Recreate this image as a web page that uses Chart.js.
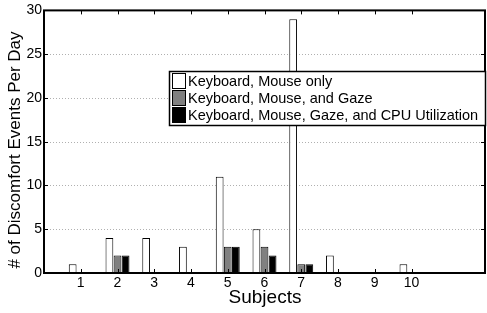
<!DOCTYPE html>
<html>
<head>
<meta charset="utf-8">
<script src="https://cdn.jsdelivr.net/npm/chart.js@4"></script>
<style>
  body { margin: 0; background: #fff; }
  canvas { display: block; }
</style>
</head>
<body>
<canvas id="chart" width="487" height="313"></canvas>
<script>
    // Values
    const subjects = ['', '1', '2', '3', '4', '5', '6', '7', '8', '9', '10', '', ''];
    const kbMouse = [null, 1, 4, 4, 3, 11, 5, 29, 2, 0, 1, null, null];
    const kbMouseGaze = [null, 0, 2, 0, 0, 3, 3, 1, 0, 0, 0, null, null];
    const kbMouseGazeCpu = [null, 0, 2, 0, 0, 3, 2, 1, 0, 0, 0, null, null];
    const yTicks = [0, 5, 10, 15, 20, 25, 30];
    const xTitle = 'Subjects';
    const yTitle = '# of Discomfort Events Per Day';

    const FONT = '"Liberation Sans", Arial, sans-serif';

    // dotted grid behind the bars
    const gridPlugin = {
      id: 'dottedGrid',
      beforeDatasetsDraw(chart) {
        const ctx = chart.ctx;
        const area = chart.chartArea;
        const y = chart.scales.y;
        ctx.save();
        ctx.strokeStyle = '#b0b0b0';
        ctx.lineWidth = 1;
        ctx.setLineDash([1, 2]);
        ctx.beginPath();
        yTicks.forEach(v => {
          if (v === 0 || v === 30) return;
          const py = Math.round(y.getPixelForValue(v)) + 0.5;
          ctx.moveTo(area.left, py);
          ctx.lineTo(area.right, py);
        });
        ctx.stroke();
        ctx.restore();
      }
    };

    // frame, inward ticks, titles and legend box, drawn on top of the bars
    const framePlugin = {
      id: 'frame',
      afterDraw(chart) {
        const ctx = chart.ctx;
        const area = chart.chartArea;
        const x = chart.scales.x, y = chart.scales.y;
        ctx.save();
        ctx.strokeStyle = '#000';
        ctx.lineWidth = 1;
        // tick marks
        ctx.beginPath();
        yTicks.forEach(v => {
          const py = Math.round(y.getPixelForValue(v)) + 0.5;
          ctx.moveTo(area.left, py); ctx.lineTo(area.left + 4, py);
          ctx.moveTo(area.right, py); ctx.lineTo(area.right - 4, py);
        });
        subjects.forEach((s, i) => {
          if (!s) return;
          const px = Math.round(x.getPixelForValue(i)) + 0.5;
          ctx.moveTo(px, area.bottom); ctx.lineTo(px, area.bottom - 4);
          ctx.moveTo(px, area.top); ctx.lineTo(px, area.top + 4);
        });
        ctx.stroke();
        // box
        ctx.lineWidth = 2;
        ctx.strokeRect(area.left, area.top, area.right - area.left, area.bottom - area.top);

        // axis titles
        ctx.fillStyle = '#000';
        ctx.textAlign = 'center';
        ctx.textBaseline = 'middle';
        ctx.font = '19px ' + FONT;
        ctx.fillText(xTitle, 265, 298);
        ctx.save();
        ctx.translate(15, 150);
        ctx.rotate(-Math.PI / 2);
        ctx.font = '17px ' + FONT;
        ctx.fillText(yTitle, 0, 0);
        ctx.restore();

        // legend
        const lx = 169, ly = 71, lw = 316, lh = 54;
        ctx.fillStyle = '#fff';
        ctx.fillRect(lx, ly, lw, lh);
        ctx.lineWidth = 1.5;
        ctx.strokeRect(lx + 0.5, ly + 0.5, lw, lh);
        ctx.font = '14.5px ' + FONT;
        ctx.textAlign = 'left';
        ctx.textBaseline = 'middle';
        chart.data.datasets.forEach((ds, i) => {
          const ry = ly + 2 + i * 17;
          ctx.fillStyle = ds.backgroundColor;
          ctx.fillRect(lx + 3, ry, 14, 16);
          ctx.lineWidth = 1;
          ctx.strokeStyle = '#000';
          ctx.strokeRect(lx + 3.5, ry + 0.5, 13, 15);
          ctx.fillStyle = '#000';
          ctx.fillText(ds.label, lx + 19, ry + 9);
        });
        ctx.restore();
      }
    };

    const ctx = document.getElementById('chart').getContext('2d');
    const chart = new Chart(ctx, {
      type: 'bar',
      data: {
        labels: subjects,
        datasets: [
          { label: 'Keyboard, Mouse only', data: kbMouse, backgroundColor: '#ffffff' },
          { label: 'Keyboard, Mouse, and Gaze', data: kbMouseGaze, backgroundColor: '#808080' },
          { label: 'Keyboard, Mouse, Gaze, and CPU Utilization', data: kbMouseGazeCpu, backgroundColor: '#000000' }
        ]
      },
      options: {
        responsive: false,
        animation: false,
        layout: { padding: { top: 10, right: 1, left: 0, bottom: 0 } },
        datasets: {
          bar: {
            borderColor: '#000',
            borderWidth: 1,
            categoryPercentage: 0.66,
            barPercentage: 0.96
          }
        },
        plugins: {
          legend: { display: false },
          tooltip: { enabled: false }
        },
        scales: {
          x: {
            offset: false,
            grid: { display: false, drawTicks: false, offset: false },
            border: { display: false },
            ticks: {
              color: '#000',
              font: { family: FONT, size: 14 },
              padding: 2,
              maxRotation: 0,
              autoSkip: false
            },
            afterFit(scale) { scale.height = 40; }
          },
          y: {
            min: 0,
            max: 30,
            grid: { display: false, drawTicks: false },
            border: { display: false },
            ticks: {
              stepSize: 5,
              color: '#000',
              font: { family: FONT, size: 14 },
              padding: 2
            },
            afterFit(scale) { scale.width = 44; }
          }
        }
      },
      plugins: [gridPlugin, framePlugin]
    });
</script>
</body>
</html>
